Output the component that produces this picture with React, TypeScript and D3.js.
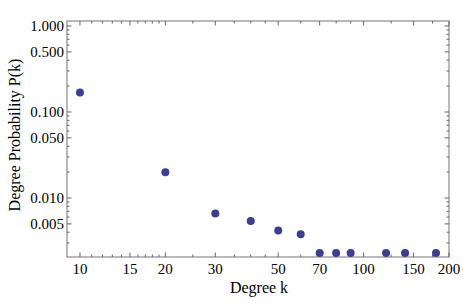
import React, { useEffect, useRef } from 'react';
import * as d3 from 'd3';

// degree k and probability P(k)
const degrees = [10, 20, 30, 40, 50, 60, 70, 80, 90, 120, 140, 180];
const probabilities = [0.168, 0.0199, 0.0066, 0.0054, 0.0042, 0.0038, 0.0023, 0.0023, 0.0023, 0.0023, 0.0023, 0.0023];

const xMajorTicks = [10, 15, 20, 30, 50, 70, 100, 150, 200];
const xMinorTicks = [11, 12, 13, 14, 16, 17, 18, 19, 25, 35, 40, 45, 60, 80, 90, 125, 175];
const yMajorTicks = [1, 0.5, 0.1, 0.05, 0.01, 0.005];
const yMinorTicks = [0.9, 0.8, 0.7, 0.6, 0.4, 0.3, 0.2, 0.09, 0.08, 0.07, 0.06, 0.04, 0.03, 0.02, 0.009, 0.008, 0.007, 0.006, 0.004, 0.003];

const App: React.FC = () => {
  const ref = useRef<SVGSVGElement | null>(null);

  useEffect(() => {
    if (!ref.current) return;
    const svg = d3.select(ref.current);
    svg.selectAll('*').remove();

    const left = 67;
    const right = 449;
    const top = 21;
    const bottom = 257;
    const font = '"Liberation Serif", "DejaVu Serif", serif';

    const x = d3.scaleLog().domain([9, 200]).range([left, right]);
    const y = d3.scaleLog().domain([0.00206, 1.143]).range([bottom, top]);

    // frame
    svg
      .append('rect')
      .attr('x', left)
      .attr('y', top)
      .attr('width', right - left)
      .attr('height', bottom - top)
      .attr('fill', 'none')
      .attr('stroke', '#8a8a8a')
      .attr('stroke-width', 1.2);

    const tickColor = '#666';
    const drawX = (vals: number[], len: number) => {
      vals.forEach((v) => {
        const px = x(v);
        svg.append('line').attr('x1', px).attr('x2', px).attr('y1', bottom).attr('y2', bottom - len).attr('stroke', tickColor);
        svg.append('line').attr('x1', px).attr('x2', px).attr('y1', top).attr('y2', top + len).attr('stroke', tickColor);
      });
    };
    const drawY = (vals: number[], len: number) => {
      vals.forEach((v) => {
        const py = y(v);
        svg.append('line').attr('x1', left).attr('x2', left + len).attr('y1', py).attr('y2', py).attr('stroke', tickColor);
        svg.append('line').attr('x1', right).attr('x2', right - len).attr('y1', py).attr('y2', py).attr('stroke', tickColor);
      });
    };
    drawX(xMajorTicks, 4.5);
    drawX(xMinorTicks, 2.5);
    drawY(yMajorTicks, 4.5);
    drawY(yMinorTicks, 2.5);

    // tick labels
    svg
      .append('g')
      .selectAll('text')
      .data(xMajorTicks)
      .enter()
      .append('text')
      .attr('x', (d) => x(d))
      .attr('y', 274)
      .attr('text-anchor', 'middle')
      .attr('font-family', font)
      .attr('font-size', 15)
      .text((d) => String(d));

    svg
      .append('g')
      .selectAll('text')
      .data(yMajorTicks)
      .enter()
      .append('text')
      .attr('x', 64)
      .attr('y', (d) => y(d))
      .attr('dy', '0.33em')
      .attr('text-anchor', 'end')
      .attr('font-family', font)
      .attr('font-size', 15)
      .text((d) => d3.format('.3f')(d));

    // axis labels
    svg
      .append('text')
      .attr('x', 259)
      .attr('y', 293)
      .attr('text-anchor', 'middle')
      .attr('font-family', font)
      .attr('font-size', 16)
      .text('Degree k');

    svg
      .append('text')
      .attr('transform', 'translate(20,135) rotate(-90)')
      .attr('text-anchor', 'middle')
      .attr('font-family', font)
      .attr('font-size', 16)
      .text('Degree Probability P(k)');

    // points
    svg
      .append('g')
      .selectAll('circle')
      .data(degrees.map((k, i) => ({ k, p: probabilities[i] })))
      .enter()
      .append('circle')
      .attr('cx', (d) => x(d.k))
      .attr('cy', (d) => y(d.p))
      .attr('r', 4)
      .attr('fill', '#3d3d99');
  }, []);

  return (
    <div style={{ position: 'absolute', left: 0, top: 0 }}>
      <svg ref={ref} width={463} height={308} style={{ display: 'block', background: '#fff' }}></svg>
    </div>
  );
};

export default App;
